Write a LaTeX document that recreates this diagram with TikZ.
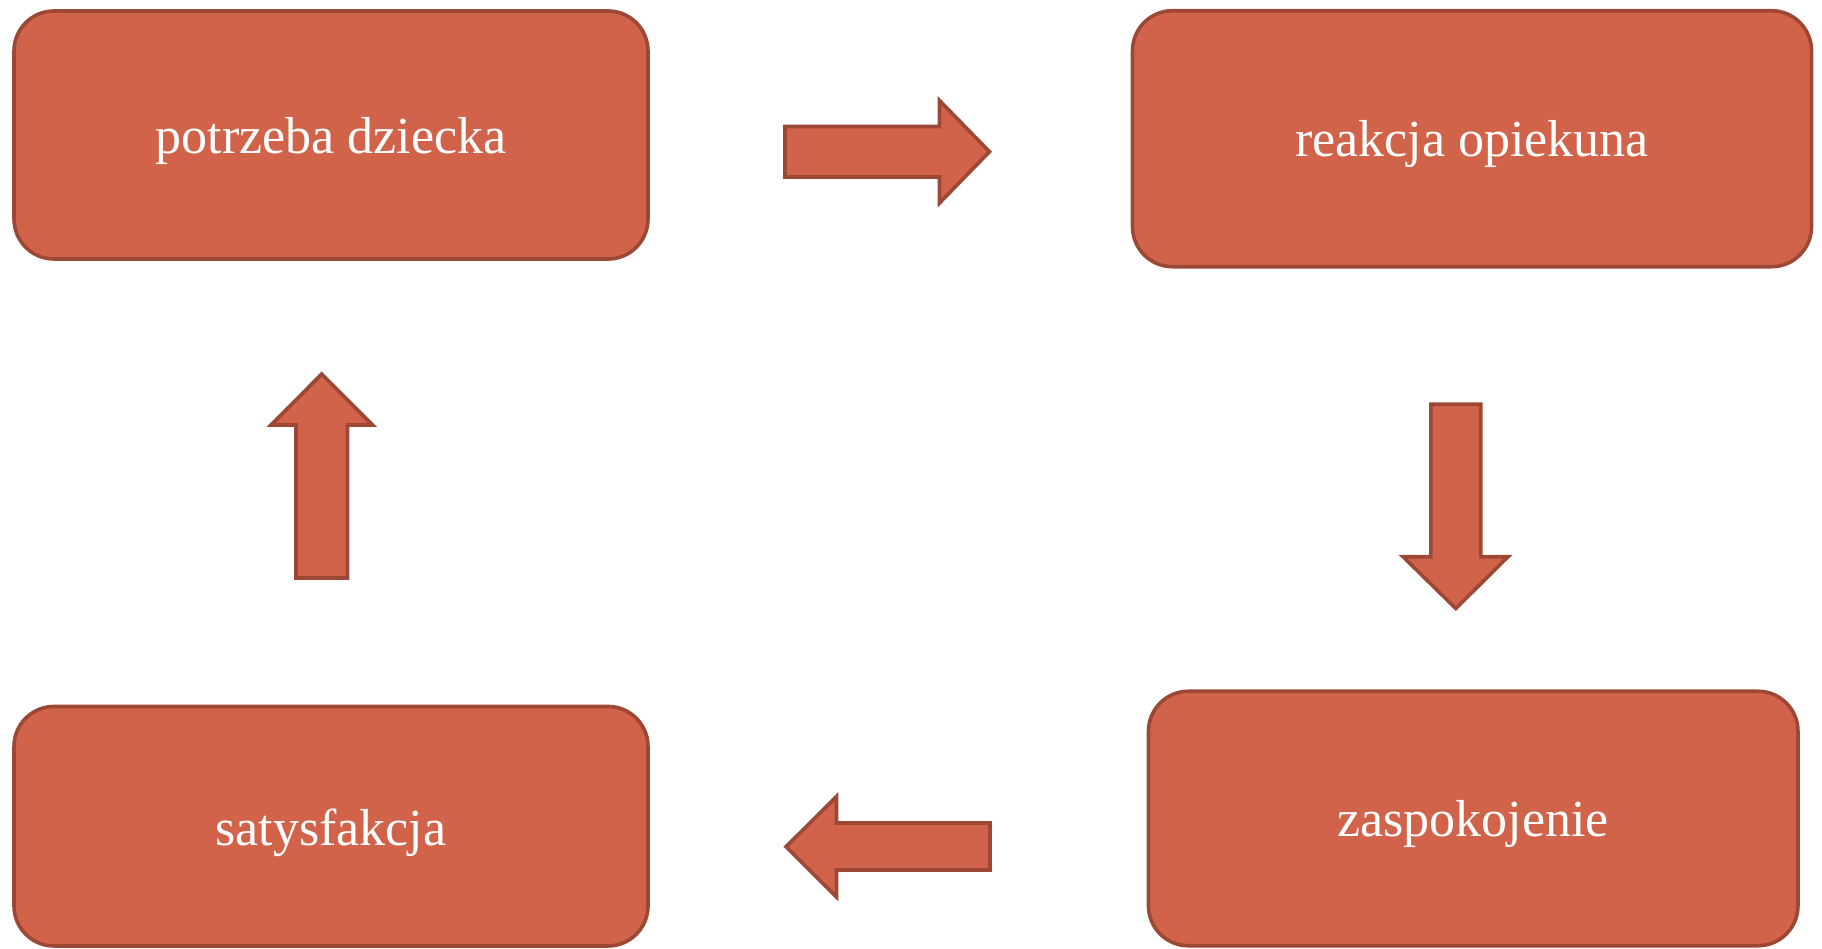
\documentclass[tikz,border=0pt]{standalone}
\usepackage{fontspec}
\setmainfont{Liberation Serif}
\definecolor{boxfill}{RGB}{208,99,74}
\definecolor{boxline}{RGB}{157,71,53}
\begin{document}
\begin{tikzpicture}[x=1pt,y=-1pt,
  box/.style={draw=boxline, fill=boxfill, line width=3.6pt, rounded corners=40pt, rectangle, inner sep=0pt, outer sep=0pt},
  lbl/.style={text=white, font=\fontsize{52}{60}\selectfont, anchor=base, inner sep=0pt},
  blockarrow/.style={draw=boxline, fill=boxfill, line width=3.6pt, line join=miter}]
\useasboundingbox (0,0) rectangle (1822,948);
% boxes
\node[box, minimum width=634pt, minimum height=248pt] (b1) at (331,135) {};
\node[box, minimum width=679pt, minimum height=256pt] (b2) at (1472,138.7) {};
\node[box, minimum width=649.5pt, minimum height=254.5pt] (b3) at (1473.2,818.5) {};
\node[box, minimum width=634pt, minimum height=239.5pt] (b4) at (331,826.2) {};
\node[lbl] (t1) at ([yshift=-18pt]b1.center) {potrzeba dziecka};
\node[lbl] (t2) at ([yshift=-18pt]b2.center) {reakcja opiekuna};
\node[lbl] (t3) at ([yshift=-18pt]b3.center) {zaspokojenie};
\node[lbl] (t4) at ([yshift=-19pt]b4.center) {satysfakcja};
% right arrow
\draw[blockarrow] (785,126.5) -- (939.5,126.5) -- (939.5,100.5) -- (989.5,151.7) -- (939.5,203) -- (939.5,177) -- (785,177) -- cycle;
% down arrow
\draw[blockarrow] (1430.8,404.2) -- (1480.8,404.2) -- (1480.8,556.7) -- (1508,556.7) -- (1455.8,608.5) -- (1403,556.7) -- (1430.8,556.7) -- cycle;
% left arrow
\draw[blockarrow] (990,823) -- (836.5,823) -- (836.5,796.5) -- (786,846.7) -- (836.5,897) -- (836.5,870) -- (990,870) -- cycle;
% up arrow
\draw[blockarrow] (296,578) -- (296,425) -- (271,425) -- (321.7,374) -- (372.5,425) -- (347.5,425) -- (347.5,578) -- cycle;
\end{tikzpicture}
\end{document}
